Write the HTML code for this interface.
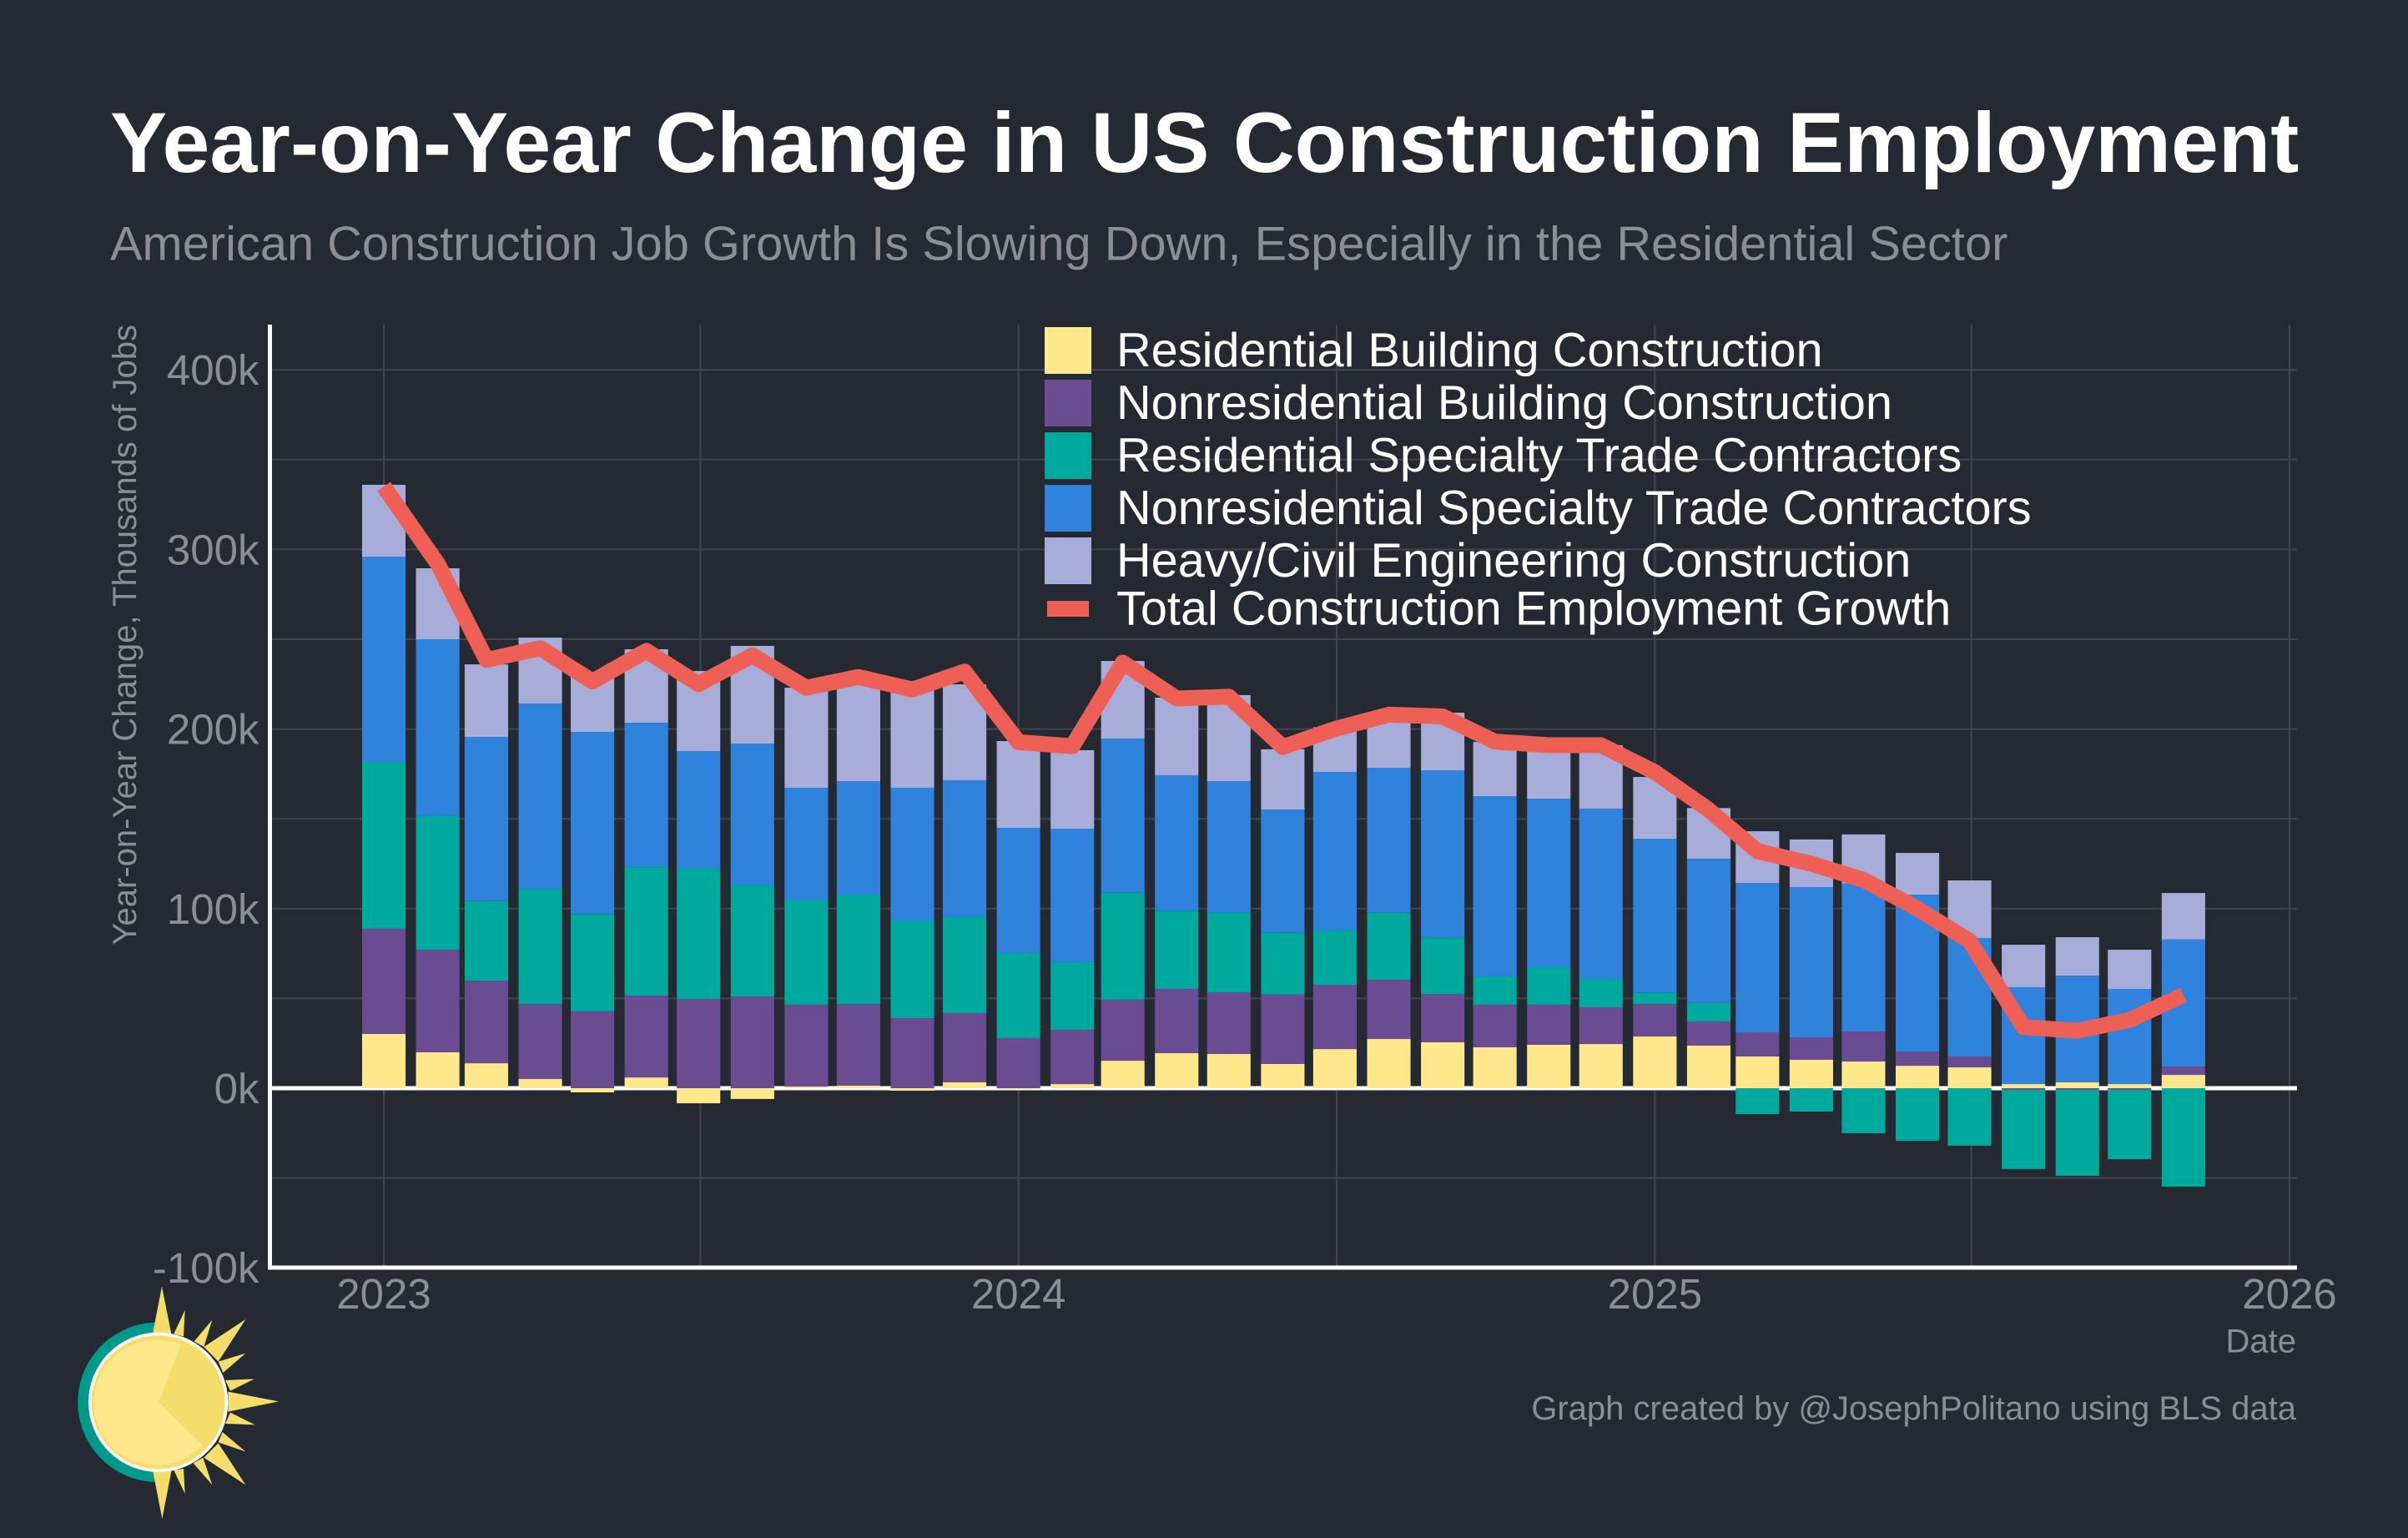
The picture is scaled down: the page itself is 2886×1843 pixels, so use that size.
<!DOCTYPE html>
<html lang="en">
<head>
<meta charset="utf-8">
<title>Year-on-Year Change in US Construction Employment</title>
<style>
html,body{margin:0;padding:0;background:#252A32;}
svg{display:block;}
text{font-family:"Liberation Sans",Arial,sans-serif;}
</style>
</head>
<body>
<svg id="chart" xmlns="http://www.w3.org/2000/svg" width="2886" height="1843" viewBox="0 0 2886 1843">
  <rect x="0" y="0" width="2886" height="1843" fill="#252A32"/>
  <text x="132" y="206" font-size="102.2" font-weight="700" fill="#FFFFFF">Year-on-Year Change in US Construction Employment</text>
  <text x="132" y="311.5" font-size="57.8" fill="#8C8E93">American Construction Job Growth Is Slowing Down, Especially in the Residential Sector</text>
  <g id="grid"></g>
  <g id="zero"></g>
  <g id="bars"></g>
  <g id="line"></g>
  <g id="axes"></g>
  <text transform="translate(163,389) rotate(-90)" text-anchor="end" font-size="40" fill="#8C8E93">Year-on-Year Change, Thousands of Jobs</text>
  <text x="2752" y="1620.5" text-anchor="end" font-size="40" fill="#8C8E93">Date</text>
  <text x="2752" y="1701" text-anchor="end" font-size="40" fill="#8C8E93">Graph created by @JosephPolitano using BLS data</text>

  <g>
    <g>
      <rect x="1252" y="392" width="56" height="56" fill="#FFE78C"/>
      <text x="1338" y="439" font-size="57.7" fill="#FFFFFF">Residential Building Construction</text>
    </g>
    <g>
      <rect x="1252" y="455" width="56" height="56" fill="#6A4C93"/>
      <text x="1338" y="502" font-size="57.7" fill="#FFFFFF">Nonresidential Building Construction</text>
    </g>
    <g>
      <rect x="1252" y="518" width="56" height="56" fill="#00A99D"/>
      <text x="1338" y="565" font-size="57.7" fill="#FFFFFF">Residential Specialty Trade Contractors</text>
    </g>
    <g>
      <rect x="1252" y="581" width="56" height="56" fill="#3083DC"/>
      <text x="1338" y="628" font-size="57.7" fill="#FFFFFF">Nonresidential Specialty Trade Contractors</text>
    </g>
    <g>
      <rect x="1252" y="644" width="56" height="56" fill="#A7ACD9"/>
      <text x="1338" y="691" font-size="57.7" fill="#FFFFFF">Heavy/Civil Engineering Construction</text>
    </g>
    <g>
      <rect x="1255" y="720" width="50" height="19" fill="#EE6055"/>
      <text x="1338" y="748.5" font-size="57.7" fill="#FFFFFF">Total Construction Employment Growth</text>
    </g>
  </g>

  <g transform="translate(60,1500) scale(0.33333)">
    <path d="M387 254 A287 287 0 0 0 387 828 Z" fill="#00998C"/>
    <g fill="#F5DD6B">
      <polygon points="368,300 402,125 437,300"/>
      <polygon points="445,295 485,210 480,305"/>
      <polygon points="518,322 583,245 553,342"/>
      <polygon points="553,342 703,243 605,395"/>
      <polygon points="605,395 703,365 622,435"/>
      <polygon points="630,462 735,457 648,500"/>
      <polygon points="640,503 822,538 640,575"/>
      <polygon points="648,578 737,622 630,618"/>
      <polygon points="620,648 702,718 605,685"/>
      <polygon points="605,688 703,838 553,740"/>
      <polygon points="550,740 583,838 515,760"/>
      <polygon points="480,780 485,870 445,785"/>
      <polygon points="437,785 403,960 370,790"/>
    </g>
    <circle cx="389" cy="541" r="251" fill="#FFFFFF"/>
    <circle cx="389" cy="541" r="240" fill="#F5DD6B"/>
    <path d="M390 540 L547 695 A225 225 0 1 1 470 335 Z" fill="#FFE78C"/>
  </g>
</svg>
<script>
const categories = ["2023-01","2023-02","2023-03","2023-04","2023-05","2023-06","2023-07","2023-08","2023-09","2023-10","2023-11","2023-12","2024-01","2024-02","2024-03","2024-04","2024-05","2024-06","2024-07","2024-08","2024-09","2024-10","2024-11","2024-12","2025-01","2025-02","2025-03","2025-04","2025-05","2025-06","2025-07","2025-08","2025-09","2025-10","2025-11"];
const residentialBuilding = [30.2,20,13.9,5.1,-2.3,6,-8.4,-6,0.9,1.4,-1.4,3.3,-0.5,2.3,15.3,19.5,19.1,13.5,21.8,27.4,25.6,22.8,24.2,24.6,28.8,23.7,17.7,15.8,14.9,12.5,11.6,2.3,3.3,2.3,7.4];
const nonresidentialBuilding = [58.6,57.1,46,41.8,42.8,45.6,49.7,51.1,45.6,45.5,39,38.5,27.9,30.2,34,35.8,34.3,38.7,35.8,33,26.9,23.7,22.3,20.4,18.1,13.5,13.4,12.5,16.7,7.9,6.1,-0.9,-0.9,-0.9,4.7];
const residentialSpecialty = [92.9,74.7,44.3,64.2,54.2,71.5,72.5,61.8,58.5,60.9,54.4,53.5,47.4,37.7,59.5,43.6,44.6,34.3,30.2,37.3,31.5,15.8,20.9,15.9,6.4,10.3,-14.4,-13,-25.1,-29.3,-32,-44.1,-47.9,-38.6,-54.8];
const nonresidentialSpecialty = [114.3,98.2,91.4,103.1,101.4,80.4,65.5,79,62.3,63.2,73.9,76.2,69.7,74.3,85.9,75.4,73,68.7,88.3,80.7,93,100.3,93.8,94.8,85.6,80.3,83.2,83.7,82.4,87.4,65.9,53.9,59.4,53,70.8];
const heavyCivil = [40,39.5,40.4,36.7,30.6,40.9,44.6,54.4,55.7,59,56.2,53.4,48.3,43.7,43.2,43.2,47.9,33.5,24.9,29.6,32.1,30.2,29.8,35.3,34.4,28.2,28.8,26.5,27.3,23.2,32.1,23.7,21.4,21.8,25.8];
const totalGrowth = [335,292,238.5,245,226.5,243.5,225,241,223,229,222,232,192.7,190.4,237,217,218,190,200,208,207,193,191,191,176,155,132,125,116,100,82,34,32,38,51.9];
const yTickValues = [-100,0,100,200,300,400];
const yTickLabels = ["-100k","0k","100k","200k","300k","400k"];
const yGridValues = [-50,0,50,100,150,200,250,300,350,400];
const xTickDates = ["2023-01-01","2024-01-01","2025-01-01","2026-01-01"];
const xTickLabels = ["2023","2024","2025","2026"];
const xGridDates = ["2023-01-01","2023-07-02","2024-01-01","2024-07-02","2025-01-01","2025-07-02","2026-01-01"];

const stackOrder = [
  {name:"residential-building", values:residentialBuilding, color:"#FFE78C"},
  {name:"nonresidential-building", values:nonresidentialBuilding, color:"#6A4C93"},
  {name:"residential-specialty", values:residentialSpecialty, color:"#00A99D"},
  {name:"nonresidential-specialty", values:nonresidentialSpecialty, color:"#3083DC"},
  {name:"heavy-civil", values:heavyCivil, color:"#A7ACD9"}
];

const NS = "http://www.w3.org/2000/svg";
const PX_PER_DAY = (2744 - 460) / 1096;
const PX_PER_K = 2.152;
const BAR_DAYS = 25;
function dayIndex(ymd) {
  const parts = ymd.split("-");
  const day = parts.length > 2 ? +parts[2] : 1;
  return (Date.UTC(+parts[0], +parts[1] - 1, day) - Date.UTC(2023, 0, 1)) / 86400000;
}
function xScale(ymd) { return 460 + dayIndex(ymd) * PX_PER_DAY; }
function yScale(v) { return 1304 - v * PX_PER_K; }
function make(tag, parent, attrs) {
  const el = document.createElementNS(NS, tag);
  for (const k in attrs) el.setAttribute(k, attrs[k]);
  parent.appendChild(el);
  return el;
}

const gridLayer = document.getElementById("grid");
yGridValues.forEach(function (v) {
  const el = make("line", gridLayer, {x1:325, x2:2753, y1:yScale(v), y2:yScale(v), stroke:"#42454C", "stroke-width":2});
  
  
});
xGridDates.forEach(function (d) {
  const el = make("line", gridLayer, {x1:xScale(d), x2:xScale(d), y1:389, y2:1519, stroke:"#42454C", "stroke-width":2});
  
  
});

const zeroLine = make("line", document.getElementById("zero"), {x1:325, x2:2753, y1:yScale(0), y2:yScale(0), stroke:"#FFFFFF", "stroke-width":5});



const barLayer = document.getElementById("bars");
categories.forEach(function (d, i) {
  let up = 0, down = 0;
  const w = BAR_DAYS * PX_PER_DAY;
  stackOrder.forEach(function (s) {
    const v = s.values[i];
    let top, bottom;
    if (v >= 0) { top = up + v; bottom = up; up = top; }
    else { top = down; bottom = down + v; down = bottom; }
    const el = make("rect", barLayer, {x:xScale(d) - w / 2, y:yScale(top), width:w, height:yScale(bottom) - yScale(top), fill:s.color});
    
    
  });
});

const linePoints = categories.map(function (d, i) { return xScale(d) + "," + yScale(totalGrowth[i]); }).join(" ");
const totalLine = make("polyline", document.getElementById("line"), {points:linePoints, fill:"none", stroke:"#EE6055", "stroke-width":19, "stroke-linejoin":"round", "stroke-linecap":"butt"});



const axisLayer = document.getElementById("axes");
const yAxisLine = make("line", axisLayer, {x1:323.5, x2:323.5, y1:389, y2:1521.5, stroke:"#FFFFFF", "stroke-width":5});


const xAxisLine = make("line", axisLayer, {x1:321, x2:2753, y1:1519, y2:1519, stroke:"#FFFFFF", "stroke-width":5});


yTickValues.forEach(function (v, i) {
  const el = make("text", axisLayer, {x:310.5, y:yScale(v) + 18, "text-anchor":"end", "font-size":51, fill:"#8C8E93"});
  el.textContent = yTickLabels[i];
  
  
});
xTickDates.forEach(function (d, i) {
  const el = make("text", axisLayer, {x:xScale(d), y:1568, "text-anchor":"middle", "font-size":51, fill:"#8C8E93"});
  el.textContent = xTickLabels[i];
  
  
});
</script>
</body>
</html>
